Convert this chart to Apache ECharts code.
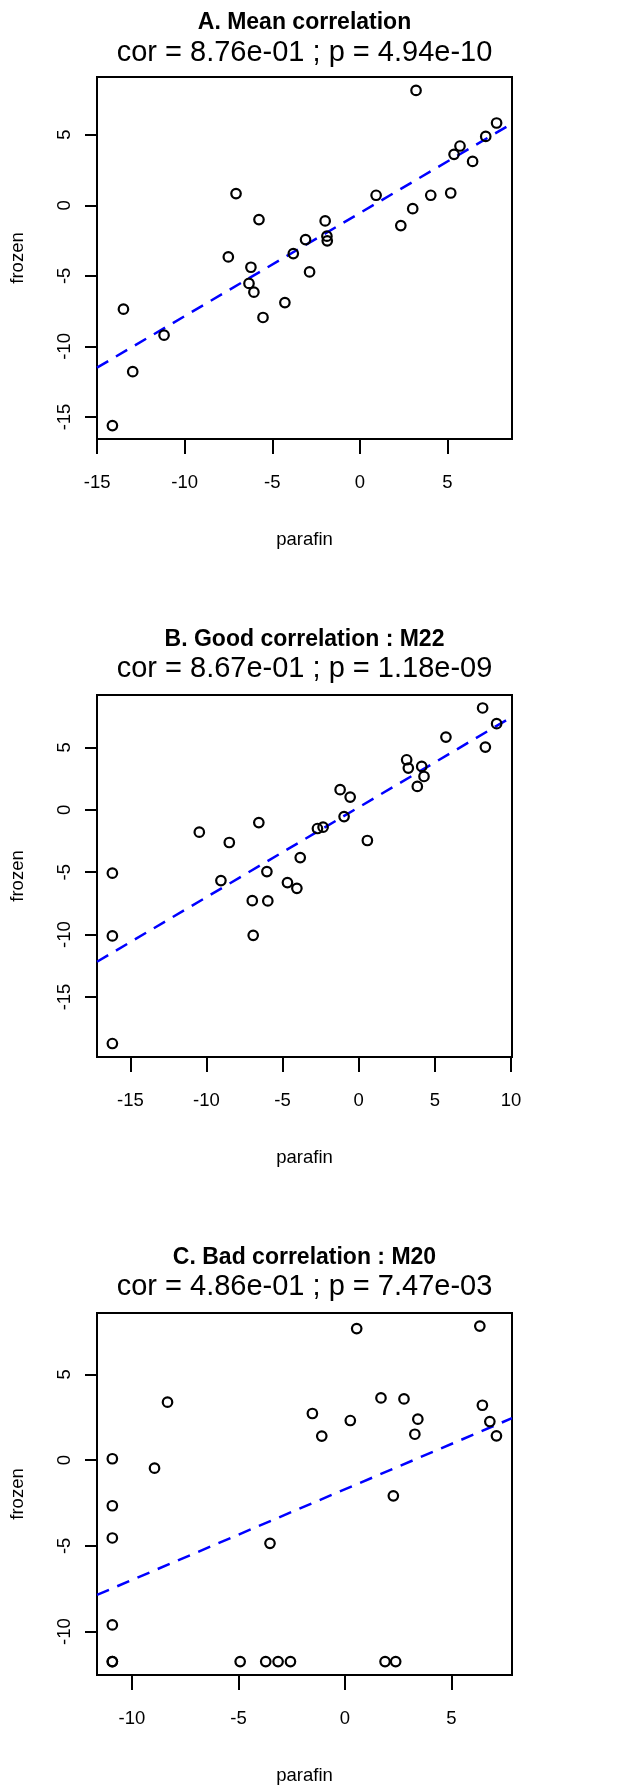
<!DOCTYPE html>
<html><head><meta charset="utf-8">
<script src="https://cdn.jsdelivr.net/npm/echarts@6/dist/echarts.min.js"></script>
<style>html,body{margin:0;padding:0;background:#fff}#c{width:632px;height:1786px}</style>
</head><body><div id="c"></div>
<script>
// ---- Panel A: Mean correlation ----
const titleA = 'A. Mean correlation';
const subA = 'cor = 8.76e-01 ; p = 4.94e-10';
const parafinA = [-14.13,-13.5,-12.97,-11.18,-7.51,-6.22,-6.33,-6.05,-5.76,-5.53,-4.28,-3.80,-3.10,-2.87,-1.98,-1.88,-1.86,2.34,3.02,4.05,5.19,0.93,-7.07,3.21,7.81,7.19,5.72,5.38,6.44];
const frozenA  = [-15.61,-7.36,-11.79,-9.2,-3.66,-4.39,-5.54,-6.16,-1.01,-7.95,-6.89,-3.42,-2.43,-4.72,-1.11,-2.19,-2.52,-1.44,-0.24,0.71,0.87,0.71,0.83,8.14,5.83,4.88,4.2,3.61,3.11];
const fitA = [-0.55, 0.73];           // intercept, slope
const xRangeA = [-15.01, 8.69];
const yRangeA = [-16.56, 9.09];
const xTicksA = [-15,-10,-5,0,5];
const yTicksA = [-15,-10,-5,0,5];

// ---- Panel B: Good correlation : M22 ----
const titleB = 'B. Good correlation : M22';
const subB = 'cor = 8.67e-01 ; p = 1.18e-09';
const parafinB = [-16.18,-16.18,-16.18,-10.47,-8.50,-9.05,-6.99,-6.93,-6.56,-6.03,-5.97,-4.68,-4.06,-3.84,-2.71,-2.34,-1.22,-0.56,-0.96,0.57,3.85,3.15,3.26,4.14,4.29,5.73,8.14,9.06,8.32];
const frozenB  = [-5.08,-10.11,-18.73,-1.79,-2.62,-5.67,-7.28,-10.06,-1.02,-4.95,-7.30,-5.83,-6.29,-3.83,-1.50,-1.39,1.61,1.02,-0.54,-2.46,1.87,4.01,3.34,3.48,2.67,5.83,8.16,6.90,5.03];
const fitB = [0.2, 0.72];
const xRangeB = [-17.19, 10.07];
const yRangeB = [-19.81, 9.2];
const xTicksB = [-15,-10,-5,0,5,10];
const yTicksB = [-15,-10,-5,0,5];

// ---- Panel C: Bad correlation : M20 ----
const titleC = 'C. Bad correlation : M20';
const subC = 'cor = 4.86e-01 ; p = 7.47e-03';
const parafinC = [-10.92,-10.92,-10.92,-10.92,-10.92,-10.92,-8.94,-8.33,-4.92,-3.72,-3.14,-2.56,-3.52,-1.53,-1.09,0.25,1.69,2.77,3.42,3.28,2.27,1.88,2.38,6.45,6.80,7.11,0.55,6.33];
const frozenC  = [0.08,-2.66,-4.54,-9.61,-11.75,-11.75,-0.47,3.38,-11.75,-11.75,-11.75,-11.75,-4.85,2.72,1.40,2.31,3.63,3.57,2.39,1.51,-2.08,-11.75,-11.75,3.20,2.25,1.42,7.67,7.82];
const fitC = [-1.70, 0.529];
const xRangeC = [-11.64, 7.84];
const yRangeC = [-12.53, 8.58];
const xTicksC = [-10,-5,0,5];
const yTicksC = [-10,-5,0,5];

const xName = 'parafin', yName = 'frozen';

const panels = [
  {title: titleA, sub: subA, x: parafinA, y: frozenA, fit: fitA, xr: xRangeA, yr: yRangeA, xt: xTicksA, yt: yTicksA, top: 77, tY: 23, sY: 52.5},
  {title: titleB, sub: subB, x: parafinB, y: frozenB, fit: fitB, xr: xRangeB, yr: yRangeB, xt: xTicksB, yt: yTicksB, top: 695, tY: 640, sY: 668.5},
  {title: titleC, sub: subC, x: parafinC, y: frozenC, fit: fitC, xr: xRangeC, yr: yRangeC, xt: xTicksC, yt: yTicksC, top: 1313, tY: 1258, sY: 1286.5}
];

const FONT = '"Liberation Sans", Arial, Helvetica, sans-serif';
const GL = 97, GW = 415, GH = 362;

const grid = [], xAxis = [], yAxis = [], series = [], graphic = [];
panels.forEach((p, i) => {
  grid.push({left: GL, top: p.top, width: GW, height: GH, show: true, borderColor: '#000', borderWidth: 2, backgroundColor: 'transparent', containLabel: false});
  xAxis.push({
    type: 'value', gridIndex: i, min: p.xr[0], max: p.xr[1],
    name: xName, nameLocation: 'middle', nameGap: 91,
    nameTextStyle: {fontFamily: FONT, fontSize: 18.5, color: '#000', verticalAlign: 'top'},
    axisLine: {show: false, onZero: false},
    axisTick: {show: true, length: 15, lineStyle: {color: '#000', width: 2}, customValues: p.xt},
    axisLabel: {show: true, margin: 34, fontFamily: FONT, fontSize: 18.5, color: '#000', customValues: p.xt, showMinLabel: true, showMaxLabel: true},
    splitLine: {show: false}
  });
  yAxis.push({
    type: 'value', gridIndex: i, min: p.yr[0], max: p.yr[1],
    name: yName, nameLocation: 'middle', nameGap: 70,
    nameTextStyle: {fontFamily: FONT, fontSize: 18.5, color: '#000'},
    axisLine: {show: false, onZero: false},
    axisTick: {show: true, length: 12, lineStyle: {color: '#000', width: 2}, customValues: p.yt},
    axisLabel: {show: true, rotate: 90, margin: 23, fontFamily: FONT, fontSize: 18.5, color: '#000', customValues: p.yt},
    splitLine: {show: false}
  });
  series.push({
    type: 'scatter', xAxisIndex: i, yAxisIndex: i,
    data: p.x.map((v, k) => [v, p.y[k]]),
    symbol: 'circle', symbolSize: 9.5,
    itemStyle: {color: 'rgba(0,0,0,0)', borderColor: '#000', borderWidth: 2.2, opacity: 1},
    emphasis: {disabled: true}, silent: true, z: 3
  });
  const a = p.fit[0], b = p.fit[1];
  series.push({
    type: 'line', xAxisIndex: i, yAxisIndex: i,
    data: [[p.xr[0], a + b * p.xr[0]], [p.xr[1], a + b * p.xr[1]]],
    showSymbol: false, symbol: 'none', clip: true,
    lineStyle: {color: '#0000FF', width: 2.5, type: [13, 9]},
    emphasis: {disabled: true}, silent: true, z: 2
  });
  const cx = GL + GW / 2;
  graphic.push({type: 'text', x: cx, y: p.tY, style: {text: p.title, font: 'bold 23px ' + FONT, fill: '#000', textAlign: 'center', textVerticalAlign: 'middle'}});
  graphic.push({type: 'text', x: cx, y: p.sY, style: {text: p.sub, font: '29px ' + FONT, fill: '#000', textAlign: 'center', textVerticalAlign: 'middle'}});
});

const chart = echarts.init(document.getElementById('c'), null, {renderer: 'canvas'});
chart.setOption({animation: false, backgroundColor: '#fff', grid, xAxis, yAxis, series, graphic});
</script>
</body></html>
